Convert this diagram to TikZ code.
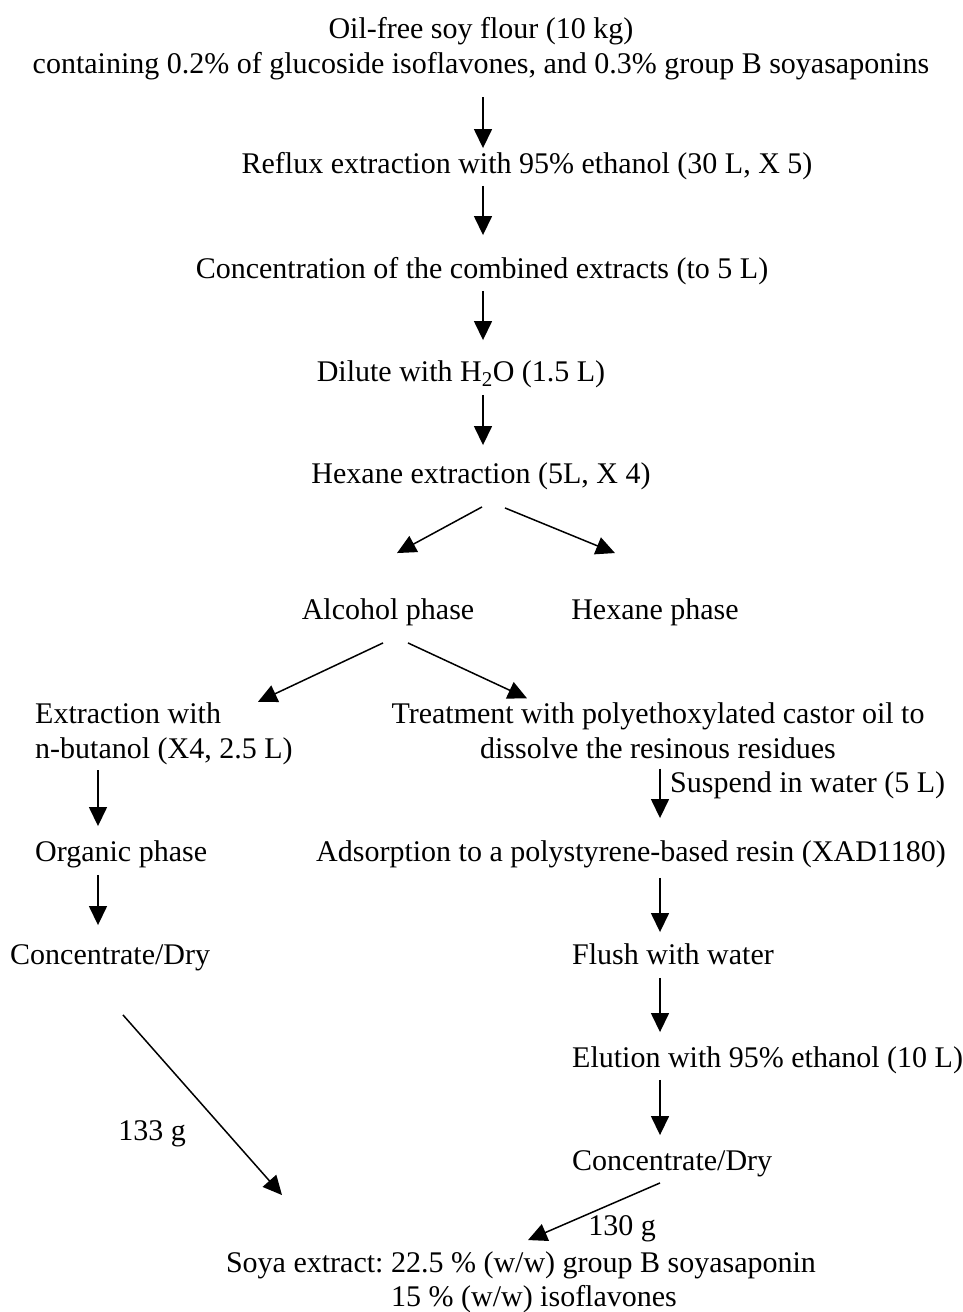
\documentclass[tikz,border=0pt]{standalone}
\usepackage{fontspec}
\setmainfont{Liberation Serif}
\usetikzlibrary{arrows.meta,positioning}
\frenchspacing

\begin{document}
\begin{tikzpicture}[
    x=1pt, y=-1pt,
    txt/.style={inner sep=0pt, text height=21pt, text depth=6.5pt, font=\fontsize{30}{35}\selectfont},
    multi/.style={inner sep=0pt, font=\fontsize{30}{35}\selectfont},
    arr/.style={draw, line width=1.5pt, -{Triangle[length=19pt,width=18pt]}},
    down/.style={arr, shorten <=6pt, shorten >=20pt}
]
\useasboundingbox (0,0) rectangle (963,1312);

% Columns of the vertical arrows
\coordinate (mid) at (483,0);
\coordinate (lcol) at (98,0);
\coordinate (rcol) at (660,0);

% Main line
\node[multi, align=center] (flour) at (481,48.5) {\strut Oil-free soy flour (10 kg)\\
containing 0.2\% of glucoside isoflavones, and 0.3\% group B soyasaponins\strut};
\node[txt] (reflux) at (527,166) {Reflux extraction with 95\% ethanol (30 L, X 5)};
\node[txt] (conc) at (482,271) {Concentration of the combined extracts (to 5 L)};
\node[txt] (dilute) at (461,374) {Dilute with H\textsubscript{2}O (1.5 L)};
\node[txt] (hexext) at (481,476) {Hexane extraction (5L, X 4)};
\node[txt] (alcohol) at (388,612) {Alcohol phase};
\node[txt] (hexphase) at (655,612) {Hexane phase};

% Left branch
\node[multi, align=left, anchor=west] (butanol) at (35,733.5) {\strut Extraction with\\ n-butanol (X4, 2.5 L)\strut};
\node[txt, anchor=west] (organic) at (35,854) {Organic phase};
\node[txt, anchor=west] (dryleft) at (10,957) {Concentrate/Dry};

% Right branch
\node[multi, align=center] (castor) at (658,733.5) {\strut Treatment with polyethoxylated castor oil to\\ dissolve the resinous residues\strut};
\node[txt, anchor=west] (suspend) at (670,785) {Suspend in water (5 L)};
\node[txt] (resin) at (631,854) {Adsorption to a polystyrene-based resin (XAD1180)};
\node[txt, anchor=west] (flush) at (572,957) {Flush with water};
\node[txt, anchor=west] (elution) at (572,1060) {Elution with 95\% ethanol (10 L)};
\node[txt, anchor=west] (dryright) at (572,1163) {Concentrate/Dry};

% Product
\node[txt] (soya) at (521,1265) {Soya extract: 22.5 \% (w/w) group B soyasaponin};
\node[txt] (soyab) at (534,1299) {15 \% (w/w) isoflavones};
\node[txt] (yieldleft) at (152,1133) {133 g};
\node[txt] (yieldright) at (622,1228) {130 g};

% Arrows
\draw[down, shorten <=13.5pt, shorten >=4pt] (flour.south -| mid) -- (reflux.north -| mid);
\draw[down, shorten >=22pt] (reflux.south -| mid) -- (conc.north -| mid);
\draw[down] (conc.south -| mid) -- (dilute.north -| mid);
\draw[down, shorten <=7pt, shorten >=17pt] (dilute.south -| mid) -- (hexext.north -| mid);

\draw[arr] ([xshift=1pt,yshift=-17pt]hexext.south) -- ([xshift=9pt,yshift=45pt]alcohol.north);
\draw[arr] ([xshift=24pt,yshift=-18pt]hexext.south) -- ([xshift=-40pt,yshift=45pt]hexphase.north);
\draw[arr] ([xshift=-5pt,yshift=-17pt]alcohol.south) -- ([xshift=223pt,yshift=-3.5pt]butanol.north west);
\draw[arr] ([xshift=20pt,yshift=-17pt]alcohol.south) -- ([xshift=-131pt,yshift=0pt]castor.north);

\draw[down, shorten <=1.5pt, shorten >=14pt] (butanol.south -| lcol) -- (organic.north -| lcol);
\draw[down, shorten <=7pt, shorten >=18pt] (organic.south -| lcol) -- (dryleft.north -| lcol);

\draw[down, shorten <=0pt, shorten >=22pt] (castor.south -| rcol) -- (resin.north -| rcol);
\draw[down, shorten <=10pt, shorten >=11pt] (resin.south -| rcol) -- (flush.north -| rcol);
\draw[down, shorten <=7pt, shorten >=14pt] (flush.south -| rcol) -- (elution.north -| rcol);
\draw[down, shorten >=14pt] (elution.south -| rcol) -- (dryright.north -| rcol);

\draw[arr] ([xshift=113pt,yshift=-44pt]dryleft.south west) -- ([xshift=-239pt,yshift=56pt]soya.north);
\draw[arr] ([xshift=88pt,yshift=-6pt]dryright.south west) -- ([xshift=7pt,yshift=11pt]soya.north);

\end{tikzpicture}
\end{document}
